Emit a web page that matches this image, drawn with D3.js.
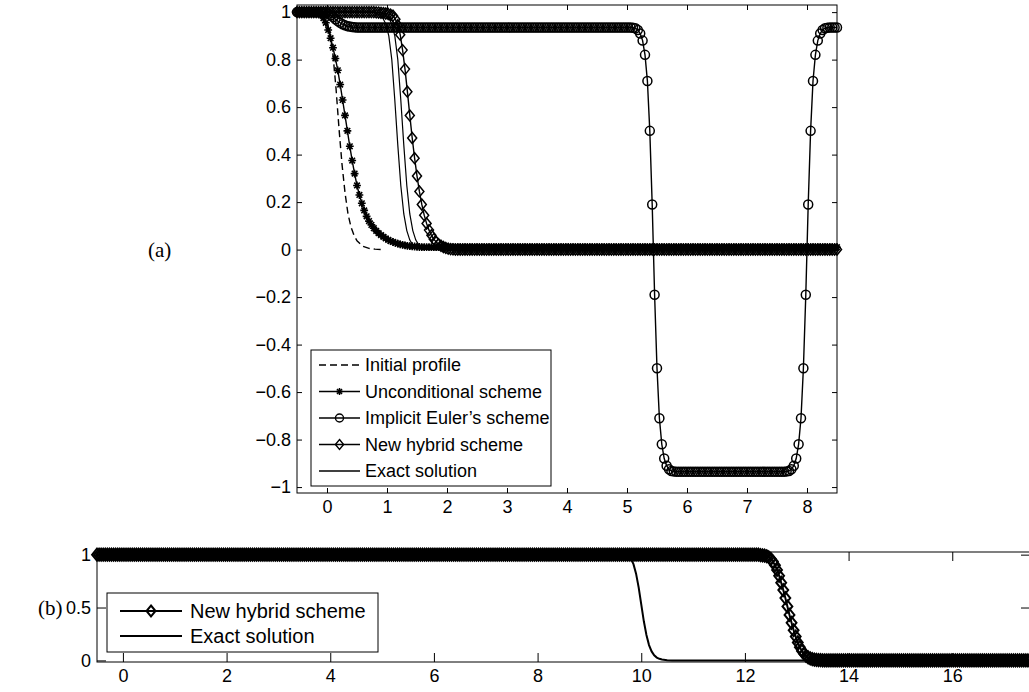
<!DOCTYPE html>
<html><head><meta charset="utf-8">
<script src="https://cdn.jsdelivr.net/npm/d3@7"></script>
<style>body{margin:0;background:#fff}</style>
</head><body>
<svg id="c" width="1029" height="692"></svg>
<script>
// ---------------- DATA ----------------
// Panel (a): numerical schemes on a uniform grid x = -0.5 + 0.04*i (i = 0..225)
const gridStartA = -0.5;
const gridStepA = 0.04;
const unconditionalA = [
1,1,1,1,1,1,1,1,.998,.995,
.988,.975,.955,.925,.89,.85,.805,.755,.695,.63,
.565,.5,.435,.375,.32,.27,.23,.195,.165,.14,
.12,.104,.09,.079,.069,.061,.054,.047,.041,.036,
.032,.028,.025,.022,.02,.018,.016,.015,.014,.013,
.012,.011,.01,.01,.01,.01,.01,.01,.01,.01,
.01,.01,.01,.01,.01,.01,.01,.01,.01,.01,
.01,.01,.01,.01,.01,.01,.01,.01,.01,.01,
.01,.01,.01,.01,.01,.01,.01,.01,.01,.01,
.01,.01,.01,.01,.01,.01,.01,.01,.01,.01,
.01,.01,.01,.01,.01,.01,.01,.01,.01,.01,
.01,.01,.01,.01,.01,.01,.01,.01,.01,.01,
.01,.01,.01,.01,.01,.01,.01,.01,.01,.01,
.01,.01,.01,.01,.01,.01,.01,.01,.01,.01,
.01,.01,.01,.01,.01,.01,.01,.01,.01,.01,
.01,.01,.01,.01,.01,.01,.01,.01,.01,.01,
.01,.01,.01,.01,.01,.01,.01,.01,.01,.01,
.01,.01,.01,.01,.01,.01,.01,.01,.01,.01,
.01,.01,.01,.01,.01,.01,.01,.01,.01,.01,
.01,.01,.01,.01,.01,.01,.01,.01,.01,.01,
.01,.01,.01,.01,.01,.01,.01,.01,.01,.01,
.01,.01,.01,.01,.01,.01,.01,.01,.01,.01,
.01,.01,.01,.01,.01,.01
];
const implicitA = [
1,1,1,1,1,1,1,1,1,1,
1,.999,.997,.993,.987,.979,.97,.962,.955,.949,
.945,.941,.939,.937,.936,.935,.935,.935,.935,.935,
.935,.935,.935,.935,.935,.935,.935,.935,.935,.935,
.935,.935,.935,.935,.935,.935,.935,.935,.935,.935,
.935,.935,.935,.935,.935,.935,.935,.935,.935,.935,
.935,.935,.935,.935,.935,.935,.935,.935,.935,.935,
.935,.935,.935,.935,.935,.935,.935,.935,.935,.935,
.935,.935,.935,.935,.935,.935,.935,.935,.935,.935,
.935,.935,.935,.935,.935,.935,.935,.935,.935,.935,
.935,.935,.935,.935,.935,.935,.935,.935,.935,.935,
.935,.935,.935,.935,.935,.935,.935,.935,.935,.935,
.935,.935,.935,.935,.935,.935,.935,.935,.935,.935,
.935,.935,.935,.935,.935,.935,.935,.935,.935,.935,
.934,.932,.925,.91,.88,.82,.71,.5,.19,-.19,
-.5,-.71,-.82,-.88,-.91,-.925,-.932,-.934,-.935,-.935,
-.935,-.935,-.935,-.935,-.935,-.935,-.935,-.935,-.935,-.935,
-.935,-.935,-.935,-.935,-.935,-.935,-.935,-.935,-.935,-.935,
-.935,-.935,-.935,-.935,-.935,-.935,-.935,-.935,-.935,-.935,
-.935,-.935,-.935,-.935,-.935,-.935,-.935,-.935,-.935,-.935,
-.935,-.935,-.935,-.935,-.934,-.932,-.925,-.91,-.88,-.82,
-.71,-.5,-.19,.19,.5,.71,.82,.88,.91,.925,
.932,.934,.935,.935,.935,.935
];
const hybridA = [
1,1,1,1,1,1,1,1,1,1,
1,1,1,1,1,1,1,1,1,1,
1,1,1,1,1,1,1,1,1,1,
1,1,1,.999,.998,.997,.996,.994,.992,.989,
.985,.97,.945,.905,.84,.76,.665,.565,.47,.385,
.31,.245,.19,.145,.11,.082,.06,.044,.032,.023,
.016,.011,.007,.004,.002,.001,0,0,0,0,
0,0,0,0,0,0,0,0,0,0,0,0,0,0,0,0,0,0,0,0,
0,0,0,0,0,0,0,0,0,0,0,0,0,0,0,0,0,0,0,0,
0,0,0,0,0,0,0,0,0,0,0,0,0,0,0,0,0,0,0,0,
0,0,0,0,0,0,0,0,0,0,0,0,0,0,0,0,0,0,0,0,
0,0,0,0,0,0,0,0,0,0,0,0,0,0,0,0,0,0,0,0,
0,0,0,0,0,0,0,0,0,0,0,0,0,0,0,0,0,0,0,0,
0,0,0,0,0,0,0,0,0,0,0,0,0,0,0,0,0,0,0,0,
0,0,0,0,0,0,0,0,0,0,
0,0,0,0,0,0
];
// Panel (a): continuous curves
const initialX = [-0.5,-0.3,-0.2,-0.1,-0.05,0,0.05,0.1,0.15,0.2,0.25,0.3,0.35,0.4,0.45,0.5,0.6,0.7,0.8,0.9];
const initialY = [1,1,.998,.99,.98,.955,.91,.82,.68,.51,.36,.24,.15,.095,.06,.037,.014,.005,.002,0];
const exactX = [-0.5,0.68,0.78,0.83,0.88,0.93,0.98,1.03,1.08,1.13,1.18,1.23,1.28,1.33,1.38,1.43,1.48,1.58,1.68,1.78,8.5];
const exactY = [1,1,.998,.995,.988,.975,.95,.9,.8,.63,.44,.27,.15,.08,.04,.02,.01,.003,.001,0,0];
const exact2X = [-0.5,0.78,0.88,0.93,0.98,1.03,1.08,1.13,1.18,1.23,1.28,1.33,1.38,1.43,1.48,1.53,1.58,1.68,1.78,1.88,8.5];
const exact2Y = [1,1,.998,.995,.988,.975,.95,.9,.8,.63,.44,.27,.15,.08,.04,.02,.01,.003,.001,0,0];

// Panel (b): grid x = -0.5 + 0.04*i (i = 0..450)
const gridStartB = -0.5;
const gridStepB = 0.04;
const hybridB = [
1,1,1,1,1,1,1,1,1,1,1,1,1,1,1,1,1,1,1,1,
1,1,1,1,1,1,1,1,1,1,1,1,1,1,1,1,1,1,1,1,
1,1,1,1,1,1,1,1,1,1,1,1,1,1,1,1,1,1,1,1,
1,1,1,1,1,1,1,1,1,1,1,1,1,1,1,1,1,1,1,1,
1,1,1,1,1,1,1,1,1,1,1,1,1,1,1,1,1,1,1,1,
1,1,1,1,1,1,1,1,1,1,1,1,1,1,1,1,1,1,1,1,
1,1,1,1,1,1,1,1,1,1,1,1,1,1,1,1,1,1,1,1,
1,1,1,1,1,1,1,1,1,1,1,1,1,1,1,1,1,1,1,1,
1,1,1,1,1,1,1,1,1,1,1,1,1,1,1,1,1,1,1,1,
1,1,1,1,1,1,1,1,1,1,1,1,1,1,1,1,1,1,1,1,
1,1,1,1,1,1,1,1,1,1,1,1,1,1,1,1,1,1,1,1,
1,1,1,1,1,1,1,1,1,1,1,1,1,1,1,1,1,1,1,1,
1,1,1,1,1,1,1,1,1,1,1,1,1,1,1,1,1,1,1,1,
1,1,1,1,1,1,1,1,1,1,1,1,1,1,1,1,1,1,1,1,
1,1,1,1,1,1,1,1,1,1,1,1,1,1,1,1,1,1,1,1,
1,1,1,1,1,1,1,1,1,1,1,1,1,1,1,1,1,1,1,1,
.995,.993,.99,.985,.975,.96,.935,.9,.855,.8,
.735,.665,.59,.51,.43,.355,.285,.225,.17,.125,
.09,.063,.043,.029,.019,.012,.008,.005,.003,.002,
.001,0,0,0,0,0,0,0,0,0,
0,0,0,0,0,0,0,0,0,0,0,0,0,0,0,0,0,0,0,0,
0,0,0,0,0,0,0,0,0,0,0,0,0,0,0,0,0,0,0,0,
0,0,0,0,0,0,0,0,0,0,0,0,0,0,0,0,0,0,0,0,
0,0,0,0,0,0,0,0,0,0,0,0,0,0,0,0,0,0,0,0,
0,0,0,0,0,0,0,0,0,0,
0
];
const exactBX = [-0.5,9.6,9.7,9.75,9.8,9.85,9.9,9.95,10.0,10.05,10.1,10.15,10.2,10.25,10.3,10.35,10.4,10.5,10.6,17.5];
const exactBY = [1,1,.995,.985,.96,.91,.82,.69,.53,.37,.24,.145,.085,.048,.027,.015,.008,.002,0,0];

// ticks and labels
const xTicksA = [0,1,2,3,4,5,6,7,8];
const yTicksA = [-1,-0.8,-0.6,-0.4,-0.2,0,0.2,0.4,0.6,0.8,1];
const xTicksB = [0,2,4,6,8,10,12,14,16];
const yTicksB = [0,0.5,1];
const legendA = ["Initial profile","Unconditional scheme","Implicit Euler\u2019s scheme","New hybrid scheme","Exact solution"];
const legendB = ["New hybrid scheme","Exact solution"];

// ---------------- DRAWING ----------------
const svg = d3.select('#c');
const FONT = '"Liberation Sans", Arial, Helvetica, sans-serif';
const fmt = d => (d < 0 ? '\u2212' : '') + String(Math.abs(d));

function markerPath(type, s) {
  if (type === 'circle') { return d3.symbol().type(d3.symbolCircle).size(Math.PI*s*s)(); }
  if (type === 'diamond') { const w = s*0.82, h = s; return `M0,${-h}L${w},0L0,${h}L${-w},0Z`; }
  if (type === 'star') { const d = s*0.72; return `M${-s},0L${s},0M0,${-s}L0,${s}M${-d},${-d}L${d},${d}M${-d},${d}L${d},${-d}`; }
  return '';
}

function axesFrame(g, x, y, L, R, T, B, xt, yt, tl, padX, padY) {
  g.append('g').attr('transform', `translate(0,${B})`)
    .call(d3.axisBottom(x).tickValues(xt).tickSize(-tl).tickPadding(padX).tickFormat(fmt));
  g.append('g').attr('transform', `translate(0,${T})`)
    .call(d3.axisTop(x).tickValues(xt).tickSize(-tl).tickFormat(''));
  g.append('g').attr('transform', `translate(${L},0)`)
    .call(d3.axisLeft(y).tickValues(yt).tickSize(-tl).tickPadding(padY).tickFormat(fmt));
  g.append('g').attr('transform', `translate(${R},0)`)
    .call(d3.axisRight(y).tickValues(yt).tickSize(-tl).tickFormat(''));
  g.selectAll('.domain').remove();
  g.selectAll('.tick line').attr('stroke', '#000').attr('stroke-width', 1);
  g.selectAll('.tick text').attr('font-family', FONT).attr('font-size', 18).attr('fill', '#000');
  g.append('rect').attr('x', L).attr('y', T).attr('width', R - L).attr('height', B - T)
    .attr('fill', 'none').attr('stroke', '#000').attr('stroke-width', 1);
}

function series(g, pts, x, y, opts) {
  const line = d3.line().x(d => x(d[0])).y(d => y(d[1]));
  g.append('path').datum(pts).attr('d', line).attr('fill', 'none')
    .attr('stroke', '#000').attr('stroke-width', opts.lw).attr('stroke-dasharray', opts.dash || null);
  if (opts.marker) {
    const p = markerPath(opts.marker, opts.ms);
    g.append('g').selectAll('path').data(pts).join('path')
      .attr('d', p).attr('transform', d => `translate(${x(d[0])},${y(d[1])})`)
      .attr('fill', 'none').attr('stroke', '#000').attr('stroke-width', opts.mlw);
  }
}

const gridPts = (start, step, vals) => vals.map((v, i) => [start + step * i, v]);
const zipPts = (xs, ys) => xs.map((v, i) => [v, ys[i]]);

// ---- Panel (a)
const LA = 297, RA = 837, TA = 5, BA = 493;
const xA = d3.scaleLinear().domain([-0.5, 8.5]).range([LA, RA]);
const yA = d3.scaleLinear().domain([-1.025, 1.03]).range([BA, TA]);
const gA = svg.append('g');
axesFrame(gA, xA, yA, LA, RA, TA, BA, xTicksA, yTicksA, 5, 7, 6);

series(gA, zipPts(initialX, initialY), xA, yA, {lw: 1.4, dash: '7,4'});
series(gA, gridPts(gridStartA, gridStepA, unconditionalA), xA, yA, {lw: 1.4, marker: 'star', ms: 3.9, mlw: 1.6});
series(gA, gridPts(gridStartA, gridStepA, implicitA), xA, yA, {lw: 1.4, marker: 'circle', ms: 4.5, mlw: 1.5});
series(gA, gridPts(gridStartA, gridStepA, hybridA), xA, yA, {lw: 1.4, marker: 'diamond', ms: 5.5, mlw: 1.5});
series(gA, zipPts(exactX, exactY), xA, yA, {lw: 1.2});
series(gA, zipPts(exact2X, exact2Y), xA, yA, {lw: 1.2});

// legend (a)
const lgA = gA.append('g');
lgA.append('rect').attr('x', 311).attr('y', 350).attr('width', 240).attr('height', 136)
  .attr('fill', '#fff').attr('stroke', '#000').attr('stroke-width', 1);
const legStyleA = [{dash:'7,4'},{marker:'star',ms:3.5,mlw:1.5},{marker:'circle',ms:4,mlw:1.4},{marker:'diamond',ms:5,mlw:1.4},{}];
legendA.forEach((t, i) => {
  const yy = 365 + i * 26.5;
  lgA.append('line').attr('x1', 319).attr('x2', 360).attr('y1', yy).attr('y2', yy)
    .attr('stroke', '#000').attr('stroke-width', 1.4).attr('stroke-dasharray', legStyleA[i].dash || null);
  if (legStyleA[i].marker) {
    lgA.append('path').attr('d', markerPath(legStyleA[i].marker, legStyleA[i].ms))
      .attr('transform', `translate(339.5,${yy})`).attr('fill', 'none').attr('stroke', '#000').attr('stroke-width', legStyleA[i].mlw);
  }
  lgA.append('text').attr('x', 365).attr('y', yy).attr('dy', '0.36em').text(t)
    .attr('font-family', FONT).attr('font-size', 18).attr('fill', '#000');
});

// ---- Panel (b)
const LB = 97, RB = 1030, TB = 552, BB = 662;
const xB = d3.scaleLinear().domain([-0.5, 17.5]).range([LB, RB]);
const yB = d3.scaleLinear().domain([-0.015, 1.025]).range([BB, TB]);
const gB = svg.append('g');
axesFrame(gB, xB, yB, LB, RB, TB, BB, xTicksB, yTicksB, 9, 7, 6);
series(gB, gridPts(gridStartB, gridStepB, hybridB), xB, yB, {lw: 2, marker: 'diamond', ms: 6, mlw: 2});
series(gB, zipPts(exactBX, exactBY), xB, yB, {lw: 2});

const lgB = gB.append('g');
lgB.append('rect').attr('x', 107).attr('y', 593).attr('width', 271).attr('height', 59)
  .attr('fill', '#fff').attr('stroke', '#000').attr('stroke-width', 1);
legendB.forEach((t, i) => {
  const yy = 611 + i * 25;
  lgB.append('line').attr('x1', 120).attr('x2', 182).attr('y1', yy).attr('y2', yy)
    .attr('stroke', '#000').attr('stroke-width', 2);
  if (i === 0) {
    lgB.append('path').attr('d', markerPath('diamond', 5.5)).attr('transform', `translate(151,${yy})`)
      .attr('fill', 'none').attr('stroke', '#000').attr('stroke-width', 2);
  }
  lgB.append('text').attr('x', 190).attr('y', yy).attr('dy', '0.36em').text(t)
    .attr('font-family', FONT).attr('font-size', 20).attr('fill', '#000');
});

// panel labels
svg.append('text').attr('x', 148).attr('y', 250).attr('dy', '0.35em').text('(a)')
  .attr('font-family', '"Liberation Serif", "Times New Roman", serif').attr('font-size', 21);
svg.append('text').attr('x', 38).attr('y', 608).attr('dy', '0.35em').text('(b)')
  .attr('font-family', '"Liberation Serif", "Times New Roman", serif').attr('font-size', 21);
</script>
</body></html>
